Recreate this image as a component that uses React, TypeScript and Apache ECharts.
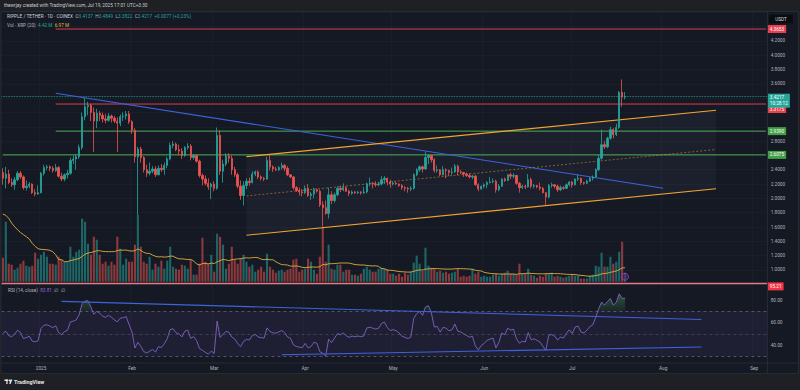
import React, { useEffect, useRef } from 'react';
import * as echarts from 'echarts';

// ---------- data ----------
const firstDay = '2024-12-19';
const dayCount = 261; // 2024-12-19 .. 2025-09-05

// daily candles [open, high, low, close], 2024-12-19 .. 2025-07-19
const ohlc: number[][] = [
  [2.36,2.42,2.19,2.28],[2.28,2.44,2.14,2.34],[2.34,2.40,2.20,2.22],[2.22,2.28,2.16,2.19],[2.19,2.30,2.12,2.26],
  [2.26,2.38,2.24,2.35],[2.35,2.38,2.27,2.30],[2.30,2.32,2.12,2.15],[2.15,2.25,2.11,2.17],[2.17,2.23,2.14,2.20],
  [2.20,2.21,2.06,2.08],[2.08,2.13,2.03,2.06],[2.06,2.18,2.05,2.08],
  // Jan
  [2.08,2.37,2.07,2.35],[2.35,2.47,2.32,2.43],[2.43,2.47,2.39,2.44],[2.44,2.46,2.38,2.42],[2.42,2.45,2.36,2.39],
  [2.39,2.48,2.37,2.43],[2.43,2.45,2.29,2.31],[2.31,2.36,2.24,2.27],[2.27,2.35,2.24,2.33],[2.33,2.40,2.28,2.35],
  [2.35,2.57,2.33,2.53],[2.53,2.60,2.48,2.55],[2.55,2.62,2.40,2.58],[2.58,2.75,2.55,2.71],[2.71,3.20,2.68,3.14],
  [3.14,3.40,3.09,3.28],[3.28,3.35,3.16,3.30],[3.30,3.32,3.08,3.20],[3.20,3.27,2.65,3.08],[3.08,3.25,2.98,3.19],
  [3.19,3.22,3.08,3.16],[3.16,3.20,3.06,3.11],[3.11,3.18,3.05,3.09],[3.09,3.19,3.07,3.15],[3.15,3.17,3.06,3.12],
  [3.12,3.15,3.05,3.08],[3.08,3.13,2.65,3.05],[3.05,3.17,3.01,3.14],[3.14,3.20,3.08,3.15],[3.15,3.22,3.10,3.18],
  [3.18,3.22,3.04,3.07],
  // Feb
  [3.07,3.09,2.90,2.95],[2.95,2.98,2.50,2.58],[2.58,2.72,1.77,2.69],[2.69,2.72,2.50,2.57],[2.57,2.59,2.36,2.40],
  [2.40,2.47,2.30,2.35],[2.35,2.50,2.32,2.38],[2.38,2.45,2.35,2.41],[2.41,2.45,2.30,2.33],[2.33,2.46,2.32,2.42],
  [2.42,2.48,2.37,2.40],[2.40,2.50,2.33,2.46],[2.46,2.58,2.42,2.55],[2.55,2.78,2.53,2.74],[2.74,2.80,2.70,2.76],
  [2.76,2.78,2.66,2.68],[2.68,2.75,2.60,2.66],[2.66,2.70,2.55,2.60],[2.60,2.73,2.58,2.71],[2.71,2.77,2.68,2.73],
  [2.73,2.76,2.53,2.57],[2.57,2.62,2.54,2.60],[2.60,2.61,2.50,2.52],[2.52,2.54,2.29,2.32],[2.32,2.35,2.18,2.27],
  [2.27,2.32,2.18,2.21],[2.21,2.28,2.12,2.16],[2.16,2.22,1.99,2.20],
  // Mar
  [2.20,2.24,2.10,2.14],[2.14,2.99,2.12,2.88],[2.88,2.95,2.33,2.38],[2.38,2.54,2.22,2.48],[2.48,2.63,2.45,2.59],
  [2.59,2.63,2.50,2.56],[2.56,2.60,2.33,2.40],[2.40,2.44,2.30,2.33],[2.33,2.36,2.14,2.17],[2.17,2.25,1.98,2.04],
  [2.04,2.24,1.90,2.18],[2.18,2.28,2.13,2.24],[2.24,2.29,2.18,2.22],[2.22,2.38,2.21,2.34],[2.34,2.39,2.31,2.37],
  [2.37,2.39,2.27,2.30],[2.30,2.32,2.25,2.28],[2.28,2.30,2.24,2.27],[2.27,2.58,2.26,2.53],[2.53,2.60,2.39,2.44],
  [2.44,2.46,2.37,2.41],[2.41,2.44,2.38,2.40],[2.40,2.45,2.38,2.43],[2.43,2.50,2.40,2.46],[2.46,2.48,2.38,2.42],
  [2.42,2.45,2.31,2.33],[2.33,2.34,2.28,2.30],[2.30,2.31,2.12,2.15],[2.15,2.17,2.09,2.11],[2.11,2.15,2.04,2.09],
  [2.09,2.13,2.03,2.08],
  // Apr
  [2.08,2.18,2.06,2.14],[2.14,2.20,2.02,2.04],[2.04,2.09,1.98,2.06],[2.06,2.15,2.00,2.12],[2.12,2.14,2.08,2.10],
  [2.10,2.12,1.88,1.91],[1.91,1.96,1.61,1.87],[1.87,1.97,1.77,1.79],[1.79,2.15,1.72,2.05],[2.05,2.10,1.92,1.97],
  [1.97,2.08,1.94,2.05],[2.05,2.17,2.03,2.14],[2.14,2.18,2.09,2.12],[2.12,2.21,2.10,2.15],[2.15,2.17,2.09,2.10],
  [2.10,2.12,2.03,2.07],[2.07,2.11,2.05,2.09],[2.09,2.10,2.06,2.08],[2.08,2.10,2.06,2.09],[2.09,2.10,2.05,2.08],
  [2.08,2.16,2.06,2.09],[2.09,2.22,2.07,2.20],[2.20,2.29,2.17,2.21],[2.21,2.23,2.14,2.20],[2.20,2.24,2.16,2.19],
  [2.19,2.23,2.17,2.20],[2.20,2.31,2.18,2.26],[2.26,2.31,2.20,2.28],[2.28,2.29,2.18,2.23],[2.23,2.26,2.15,2.20],
  // May
  [2.20,2.24,2.18,2.21],[2.21,2.24,2.19,2.20],[2.20,2.21,2.16,2.18],[2.18,2.20,2.12,2.15],[2.15,2.17,2.10,2.14],
  [2.14,2.16,2.08,2.13],[2.13,2.17,2.10,2.14],[2.14,2.35,2.12,2.33],[2.33,2.42,2.31,2.40],[2.40,2.46,2.37,2.44],
  [2.44,2.46,2.36,2.41],[2.41,2.65,2.40,2.57],[2.57,2.62,2.48,2.60],[2.60,2.61,2.50,2.54],[2.54,2.56,2.36,2.39],
  [2.39,2.46,2.36,2.40],[2.40,2.41,2.31,2.33],[2.33,2.45,2.32,2.40],[2.40,2.42,2.28,2.39],[2.39,2.40,2.31,2.36],
  [2.36,2.43,2.32,2.37],[2.37,2.48,2.36,2.45],[2.45,2.47,2.32,2.37],[2.37,2.40,2.34,2.36],[2.36,2.37,2.30,2.34],
  [2.34,2.36,2.30,2.32],[2.32,2.35,2.28,2.30],[2.30,2.33,2.27,2.31],[2.31,2.33,2.18,2.19],[2.19,2.21,2.10,2.13],
  [2.13,2.18,2.12,2.17],
  // Jun
  [2.17,2.21,2.14,2.19],[2.19,2.24,2.14,2.22],[2.22,2.30,2.21,2.23],[2.23,2.28,2.21,2.24],[2.24,2.26,2.08,2.12],
  [2.12,2.20,2.10,2.17],[2.17,2.28,2.16,2.27],[2.27,2.29,2.23,2.25],[2.25,2.34,2.24,2.33],[2.33,2.36,2.27,2.31],
  [2.31,2.35,2.28,2.32],[2.32,2.33,2.19,2.21],[2.21,2.23,2.08,2.15],[2.15,2.19,2.13,2.17],[2.17,2.19,2.13,2.16],
  [2.16,2.34,2.15,2.26],[2.26,2.29,2.14,2.17],[2.17,2.20,2.14,2.18],[2.18,2.19,2.14,2.16],[2.16,2.22,2.11,2.14],
  [2.14,2.16,2.07,2.08],[2.08,2.09,1.91,2.02],[2.02,2.20,2.00,2.18],[2.18,2.22,2.15,2.19],[2.19,2.20,2.14,2.17],
  [2.17,2.19,2.09,2.12],[2.12,2.18,2.10,2.15],[2.15,2.17,2.12,2.14],[2.14,2.21,2.13,2.19],[2.19,2.24,2.17,2.23],
  // Jul
  [2.23,2.24,2.15,2.19],[2.19,2.28,2.18,2.27],[2.27,2.33,2.24,2.28],[2.28,2.29,2.19,2.22],[2.22,2.23,2.19,2.21],
  [2.21,2.26,2.20,2.24],[2.24,2.30,2.23,2.28],[2.28,2.32,2.25,2.30],[2.30,2.42,2.29,2.40],[2.40,2.61,2.38,2.56],
  [2.56,2.96,2.54,2.75],[2.75,2.80,2.69,2.72],[2.72,2.86,2.70,2.84],[2.84,3.00,2.82,2.96],[2.96,2.98,2.84,2.89],
  [2.89,3.04,2.87,2.99],[2.99,3.50,2.97,3.48],[3.48,3.66,3.28,3.414],[3.4137,3.4849,3.3822,3.4217],
];

// daily volume, millions of XRP
const volumes: number[] = [
  12,30,9,8.5,6,7,9,10.5,8,7.5,8,14.5,11.5,
  13.5,15,12.5,9,9,8.5,12.5,11,10,10,17.5,12.5,15,16,31.5,30,19,13.5,22.5,21,13.5,9,10,8,10,8.5,22.5,16.5,8.5,11.5,10,
  10,18.5,33.5,17.5,10,9,12.5,6,9,7.5,10.5,6.5,10.5,17.5,7.5,6.5,6,8.5,8,6.5,11,3.5,3.5,9,22,10,9,13.5,
  5,24,22.5,18.5,6.5,9,17.5,11,9,11.5,13.5,10,7.5,8.5,5,6,7.5,5,14,7.5,6,4.5,5.5,6,5,6,6.5,11,11.5,5,6,
  6.5,11.5,10,6,4,12.5,27.5,10,18.5,6.5,6,8.5,8.5,5,6,6,3.5,3.5,3,4,6.5,7.5,6,5,5,6.5,7,6.5,6,4,
  4,3,4,2.5,4.5,3.5,5,9.5,13,9,5.5,17,8,7,6.5,5,5.5,4.5,5,4,4.5,5,6.5,2.5,3,2.5,3,6.5,4,5,2.5,
  3,2.5,2.5,3.5,4,3,4,4.5,5.5,4,4,3.5,9,4,4,6.5,3.5,3,2,3,2.5,4,4,4.5,2.5,3,2.5,2,2.5,3,
  3.5,3,3,1.5,1.5,1.5,3,3.5,8,7.5,14.5,7.5,7.5,12.5,9,10,15,20,4.42,
];

// history before the visible range, needed by the indicators
const volumeWarmup: number[] = [42,40,55,42.5,38,36,32,28.5,30,51.5,45,35,19.5,18,14,15,22,40,60]; // 2024-11-30 .. 12-18
const closeWarmup: number[] = [
  2.20,2.62,2.72,2.55,2.33,2.50,2.52,2.44,2.20,2.31,2.37,2.42,2.43,2.39,2.45,2.55,2.50,2.36,
]; // 2024-12-01 .. 12-18

const hiddenPriceTicks = [0.8, 2.6, 3.0, 3.2, 3.4, 4.4, 4.6];
const rsiTickLabels = [40, 60, 80];

// drawings
const levelPrices = [4.3653, 3.3175, 2.939, 2.6075];
const levelStarts = ['2025-01-06', '2025-01-06', '2025-01-06', '2024-12-19'];
const levelIsSupport = [false, false, true, true];
const descTrend: [string, number][] = [['2025-01-06', 3.468], ['2025-08-01', 2.141]];
const channelDates = ['2025-03-12', '2025-08-19'];
const channelUpper = [2.583, 3.23];
const channelLower = [1.485, 2.135];
const rsiUpperTrend: [string, number][] = [['2025-01-08', 78.8], ['2025-08-14', 62.7]];
const rsiLowerTrend: [string, number][] = [['2025-03-24', 31.3], ['2025-08-14', 38.2]];
const rsiAlertLevel = 95.21;
const rsiLegendValue = '83.81';
const countdown = '10:28:12';
const headerText = 'thewrjay created with TradingView.com, Jul 19, 2025 17:01 UTC+3:30';
const monthNames = ['Jan','Feb','Mar','Apr','May','Jun','Jul','Aug','Sep','Oct','Nov','Dec'];

// ---------- derived ----------
const dates: string[] = [];
{
  const t0 = Date.parse(firstDay + 'T00:00:00Z');
  for (let i = 0; i < dayCount; i++) dates.push(new Date(t0 + i * 86400000).toISOString().slice(0, 10));
}
const lastDate = dates[dates.length - 1];

function wilderRSI(closes: number[], period: number): number[] {
  const out: number[] = new Array(closes.length).fill(NaN);
  let g = 0, l = 0;
  for (let i = 1; i <= period; i++) {
    const d = closes[i] - closes[i - 1];
    if (d > 0) g += d; else l -= d;
  }
  g /= period; l /= period;
  out[period] = 100 - 100 / (1 + g / l);
  for (let i = period + 1; i < closes.length; i++) {
    const d = closes[i] - closes[i - 1];
    g = (g * (period - 1) + Math.max(d, 0)) / period;
    l = (l * (period - 1) + Math.max(-d, 0)) / period;
    out[i] = l === 0 ? 100 : 100 - 100 / (1 + g / l);
  }
  return out;
}

const closes = ohlc.map((r) => r[3]);
const rsi = wilderRSI([...closeWarmup, ...closes], 14).slice(closeWarmup.length);
const allVol = [...volumeWarmup, ...volumes];
const volMA = volumes.map((_, i) => {
  let s = 0;
  for (let k = 0; k < 20; k++) s += allVol[i + volumeWarmup.length - k];
  return +(s / 20).toFixed(3);
});
const rsiFill = rsi.map((v, i) =>
  v > 70 || (rsi[i - 1] ?? 0) > 70 || (rsi[i + 1] ?? 0) > 70 ? Math.max(v, 70) : '-'
);

// ---------- style ----------
const UP = '#26a69a';
const DOWN = '#ef5350';
const BG = '#151924';
const FRAME = '#1f2024';
const GRIDC = '#1d212c';
const BORDER = '#2a2e39';
const TEXT = '#b2b5be';
const BLUE = '#3d63dd';
const ORANGE = '#f0a432';
const RED = '#d8404e';
const GREEN = '#4caf50';
const FONT = 'Roboto, "Noto Sans", sans-serif';
const FS = 4.7;
const GL = 1.4;
const GR = 32.6;

function buildOption(): any {
  const isMonthStart = (_: number, v: string) => v.slice(8) === '01';
  const xBase = {
    type: 'category', data: dates, boundaryGap: true,
    axisLine: { show: false }, axisTick: { show: false }, axisLabel: { show: false },
  };
  const vSplit = { show: true, interval: isMonthStart, lineStyle: { color: GRIDC, width: 0.7 } };
  const boxLabel = (text: string, bg: string, distance: number, offsetY: number) => ({
    show: true, position: 'end', formatter: text, backgroundColor: bg, color: '#ffffff',
    fontSize: FS, fontFamily: FONT, padding: [1.2, 2, 0.8, 2], distance, lineHeight: 6,
    offset: [0, offsetY],
  });

  // horizontal levels as plain 2-point line series with an end tag
  const levelSeries = levelPrices.map((p, k) => ({
    type: 'line', name: 'level' + k, xAxisIndex: 0, yAxisIndex: 0, z: 4, silent: true,
    data: [[levelStarts[k], p], [lastDate, p]],
    symbol: 'none', showSymbol: false,
    lineStyle: { color: levelIsSupport[k] ? GREEN : RED, width: 1, type: 'solid' },
    endLabel: {
      show: true, formatter: p.toFixed(4),
      backgroundColor: levelIsSupport[k] ? '#43a047' : '#e8404f', color: '#ffffff',
      fontSize: FS, fontFamily: FONT, padding: [1.2, 2, 0.8, 2], distance: 1.8, lineHeight: 6,
      offset: [0, k === 1 ? 5 : 0],
    },
  }));

  const lastClose = closes[closes.length - 1];
  const prevClose = closes[closes.length - 2];
  const chg = lastClose - prevClose;
  const chgPct = (chg / prevClose) * 100;
  const last = ohlc[ohlc.length - 1];
  const chMid = [(channelUpper[0] + channelLower[0]) / 2, (channelUpper[1] + channelLower[1]) / 2];

  const volData = volumes.map((v, i) => ({
    value: v,
    itemStyle: { color: ohlc[i][3] >= ohlc[i][0] ? 'rgba(38,166,154,0.55)' : 'rgba(239,83,80,0.55)' },
  }));

  const t = (x: number, y: number, text: string, extra: any = {}) => ({
    type: 'text', x, y, z: 100, silent: true,
    style: { text, fill: TEXT, fontSize: FS, fontFamily: FONT, verticalAlign: 'middle', ...extra },
  });

  return {
    animation: false,
    backgroundColor: BG,
    grid: [
      { left: GL, right: GR, top: 12.2, height: 272.1 },
      { left: GL, right: GR, top: 11.7, height: 270 },
      { left: GL, right: GR, top: 277.5, height: 90 },
      { left: GL, right: GR, top: 363, height: 10 },
    ],
    xAxis: [
      { ...xBase, gridIndex: 0, splitLine: vSplit },
      { ...xBase, gridIndex: 1 },
      { ...xBase, gridIndex: 2, splitLine: vSplit },
      {
        ...xBase, gridIndex: 3, position: 'top',
        axisLabel: {
          show: true, inside: true, margin: 3, interval: isMonthStart, color: TEXT,
          fontSize: FS, fontFamily: FONT,
          formatter: (v: string) => (v.slice(5, 7) === '01' ? v.slice(0, 4) : monthNames[+v.slice(5, 7) - 1]),
        },
      },
    ],
    yAxis: [
      {
        type: 'value', gridIndex: 0, position: 'right', min: 0.8, max: 4.6, interval: 0.2,
        axisLine: { show: false }, axisTick: { show: false },
        splitLine: { show: true, lineStyle: { color: GRIDC, width: 0.7 } },
        axisLabel: {
          margin: 3.3, color: TEXT, fontSize: FS, fontFamily: FONT,
          formatter: (v: number) => (hiddenPriceTicks.some((h) => Math.abs(h - v) < 1e-6) ? '' : v.toFixed(4)),
        },
      },
      { type: 'value', gridIndex: 1, min: 0, max: 135, show: false },
      {
        type: 'value', gridIndex: 2, position: 'right', min: 20, max: 100, interval: 20,
        axisLine: { show: false }, axisTick: { show: false }, splitLine: { show: false },
        axisLabel: {
          margin: 3.3, color: TEXT, fontSize: FS, fontFamily: FONT,
          formatter: (v: number) => (rsiTickLabels.includes(v) ? v.toFixed(2) : ''),
        },
      },
      { type: 'value', gridIndex: 3, show: false },
    ],
    series: [
      {
        type: 'custom', name: 'channelFill', xAxisIndex: 0, yAxisIndex: 0, silent: true, z: 1, clip: false,
        data: [[0, 2]],
        renderItem: (_p: any, api: any) => {
          const i0 = dates.indexOf(channelDates[0]);
          const i1 = dates.indexOf(channelDates[1]);
          const pts = [
            api.coord([i0, channelUpper[0]]), api.coord([i1, channelUpper[1]]),
            api.coord([i1, channelLower[1]]), api.coord([i0, channelLower[0]]),
          ];
          return { type: 'polygon', shape: { points: pts }, style: { fill: 'rgba(150,150,210,0.06)' } };
        },
      },
      {
        type: 'bar', name: 'Volume', xAxisIndex: 1, yAxisIndex: 1, data: volData, barWidth: '72%', z: 2, silent: true,
      },
      {
        type: 'line', name: 'VolMA', xAxisIndex: 1, yAxisIndex: 1, data: volMA, symbol: 'none', z: 3, silent: true,
        lineStyle: { color: '#e0b040', width: 0.9 },
      },
      {
        type: 'scatter', name: 'volIcon', xAxisIndex: 1, yAxisIndex: 1, z: 4, silent: true,
        data: [[dates[volumes.length - 1], 2.5]], symbolSize: 7,
        itemStyle: { color: 'rgba(90,30,120,0.7)', borderColor: '#b04cd8', borderWidth: 0.8 },
      },
      ...levelSeries,
      {
        type: 'candlestick', name: 'XRPUSDT', xAxisIndex: 0, yAxisIndex: 0, z: 5, silent: true,
        data: ohlc.map((r) => [r[0], r[3], r[2], r[1]]),
        barWidth: '62%',
        itemStyle: { color: UP, color0: DOWN, borderColor: UP, borderColor0: DOWN, borderWidth: 0.8 },
        markLine: {
          silent: true, symbol: ['none', 'none'], animation: false, label: { show: false },
          data: [
            {
              yAxis: lastClose,
              lineStyle: { color: UP, width: 0.8, type: 'dotted' },
              label: boxLabel(`${lastClose.toFixed(4)}\n${countdown}`, UP, 0.4, 4),
            },
            [
              { coord: descTrend[0], lineStyle: { color: BLUE, width: 1.1, type: 'solid' } },
              { coord: descTrend[1] },
            ],
            [
              { coord: [channelDates[0], channelUpper[0]], lineStyle: { color: ORANGE, width: 1.1, type: 'solid' } },
              { coord: [channelDates[1], channelUpper[1]] },
            ],
            [
              { coord: [channelDates[0], chMid[0]], lineStyle: { color: ORANGE, width: 0.7, type: [2, 2], opacity: 0.7 } },
              { coord: [channelDates[1], chMid[1]] },
            ],
            [
              { coord: [channelDates[0], channelLower[0]], lineStyle: { color: ORANGE, width: 1.1, type: 'solid' } },
              { coord: [channelDates[1], channelLower[1]] },
            ],
          ],
        },
      },
      {
        type: 'line', name: 'RSIfill', xAxisIndex: 2, yAxisIndex: 2, data: rsiFill, symbol: 'none', z: 3, silent: true,
        lineStyle: { width: 0 },
        areaStyle: {
          origin: 70,
          color: new echarts.graphic.LinearGradient(0, 0, 0, 1, [
            { offset: 0, color: 'rgba(76,175,80,0.6)' },
            { offset: 1, color: 'rgba(76,175,80,0.12)' },
          ]),
        },
      },
      {
        type: 'line', name: 'RSI', xAxisIndex: 2, yAxisIndex: 2, data: rsi.map((v) => +v.toFixed(2)), symbol: 'none', z: 4,
        silent: true, lineStyle: { color: '#8c6bd0', width: 0.8 },
        markArea: {
          silent: true, itemStyle: { color: 'rgba(126,87,194,0.1)' },
          data: [[{ yAxis: 30 }, { yAxis: 70 }]],
        },
        markLine: {
          silent: true, symbol: ['none', 'none'], animation: false, label: { show: false },
          data: [
            { yAxis: 70, lineStyle: { color: '#787b86', width: 0.6, type: [3, 3] } },
            { yAxis: 50, lineStyle: { color: '#787b86', width: 0.6, type: [3, 3], opacity: 0.6 } },
            { yAxis: 30, lineStyle: { color: '#787b86', width: 0.6, type: [3, 3] } },
            {
              yAxis: rsiAlertLevel, lineStyle: { color: '#e77883', width: 1.3, type: 'solid' },
              label: boxLabel(rsiAlertLevel.toFixed(2), '#f23645', 0.4, 3.5),
            },
            [
              { coord: rsiUpperTrend[0], lineStyle: { color: BLUE, width: 1.1, type: 'solid' } },
              { coord: rsiUpperTrend[1] },
            ],
            [
              { coord: rsiLowerTrend[0], lineStyle: { color: BLUE, width: 1.1, type: 'solid' } },
              { coord: rsiLowerTrend[1] },
            ],
          ],
        },
      },
    ],
    graphic: [
      { type: 'rect', z: 90, silent: true, shape: { x: 0, y: 0, width: 800, height: 11.5 }, style: { fill: FRAME } },
      { type: 'rect', z: 90, silent: true, shape: { x: 0, y: 373.5, width: 800, height: 16.5 }, style: { fill: FRAME } },
      { type: 'rect', z: 90, silent: true, shape: { x: 0, y: 11.5, width: 1, height: 362 }, style: { fill: FRAME } },
      { type: 'rect', z: 90, silent: true, shape: { x: 798.5, y: 11.5, width: 1.5, height: 362 }, style: { fill: FRAME } },
      {
        type: 'rect', z: 91, silent: true, shape: { x: 1, y: 11.5, width: 797.5, height: 362 },
        style: { fill: 'none', stroke: BORDER, lineWidth: 0.8 },
      },
      { type: 'line', z: 91, silent: true, shape: { x1: 767.4, y1: 11.5, x2: 767.4, y2: 373.5 }, style: { stroke: BORDER, lineWidth: 0.8 } },
      { type: 'line', z: 91, silent: true, shape: { x1: 1, y1: 363, x2: 798.5, y2: 363 }, style: { stroke: BORDER, lineWidth: 0.8 } },
      t(4, 5.8, headerText, { fill: '#c9ccd3' }),
      t(7, 16.8, '', {
        text:
          `{n|RIPPLE / TETHER · 1D · COINEX}  {k|O}{v|${last[0].toFixed(4)}}  {k|H}{v|${last[1].toFixed(4)}}  ` +
          `{k|L}{v|${last[2].toFixed(4)}}  {k|C}{v|${last[3].toFixed(4)}}  {v|${chg >= 0 ? '+' : ''}${chg.toFixed(4)} (${chgPct >= 0 ? '+' : ''}${chgPct.toFixed(2)}%)}`,
        rich: {
          n: { fill: '#d1d4dc', fontSize: FS, fontFamily: FONT },
          k: { fill: TEXT, fontSize: FS, fontFamily: FONT },
          v: { fill: UP, fontSize: FS, fontFamily: FONT },
        },
      }),
      t(7, 25, '', {
        text: `{k|Vol · XRP (20)}  {v|${volumes[volumes.length - 1].toFixed(2)} M}  {y|${volMA[volMA.length - 1].toFixed(2)} M}`,
        rich: {
          k: { fill: TEXT, fontSize: FS, fontFamily: FONT },
          v: { fill: UP, fontSize: FS, fontFamily: FONT },
          y: { fill: '#e0b040', fontSize: FS, fontFamily: FONT },
        },
      }),
      t(8, 290, '', {
        text: `{k|RSI (14, close)}  {p|${rsiLegendValue}}  {k|∅  ∅}`,
        rich: {
          k: { fill: TEXT, fontSize: FS, fontFamily: FONT },
          p: { fill: '#8c6bd0', fontSize: FS, fontFamily: FONT },
        },
      }),
      { type: 'rect', z: 100, silent: true, shape: { x: 769, y: 14.8, width: 24, height: 8.4, r: 1 }, style: { fill: '#0b0c10' } },
      t(781, 19, 'USDT', { fill: '#d1d4dc', align: 'center' }),
      // TradingView footer logo
      { type: 'rect', z: 100, silent: true, shape: { x: 4.5, y: 379.6, width: 3.6, height: 1.3 }, style: { fill: '#e6e6e6' } },
      { type: 'rect', z: 100, silent: true, shape: { x: 6.3, y: 379.6, width: 1.3, height: 4.4 }, style: { fill: '#e6e6e6' } },
      { type: 'circle', z: 100, silent: true, shape: { cx: 9.3, cy: 380.4, r: 0.8 }, style: { fill: '#e6e6e6' } },
      {
        type: 'polygon', z: 100, silent: true,
        shape: { points: [[10.3, 379.6], [12.4, 379.6], [10.6, 384], [9.3, 384]] },
        style: { fill: '#e6e6e6' },
      },
      t(14, 382, 'TradingView', { fill: '#e6e6e6', fontSize: 5.4, fontWeight: 'bold' }),
    ],
  };
}

export default function App() {
  const ref = useRef<HTMLDivElement>(null);
  useEffect(() => {
    if (!ref.current) return;
    const chart = echarts.init(ref.current, null, { renderer: 'svg' });
    chart.setOption(buildOption());
    return () => chart.dispose();
  }, []);
  return <div ref={ref} style={{ position: 'absolute', left: 0, top: 0, width: 800, height: 390 }} />;
}
